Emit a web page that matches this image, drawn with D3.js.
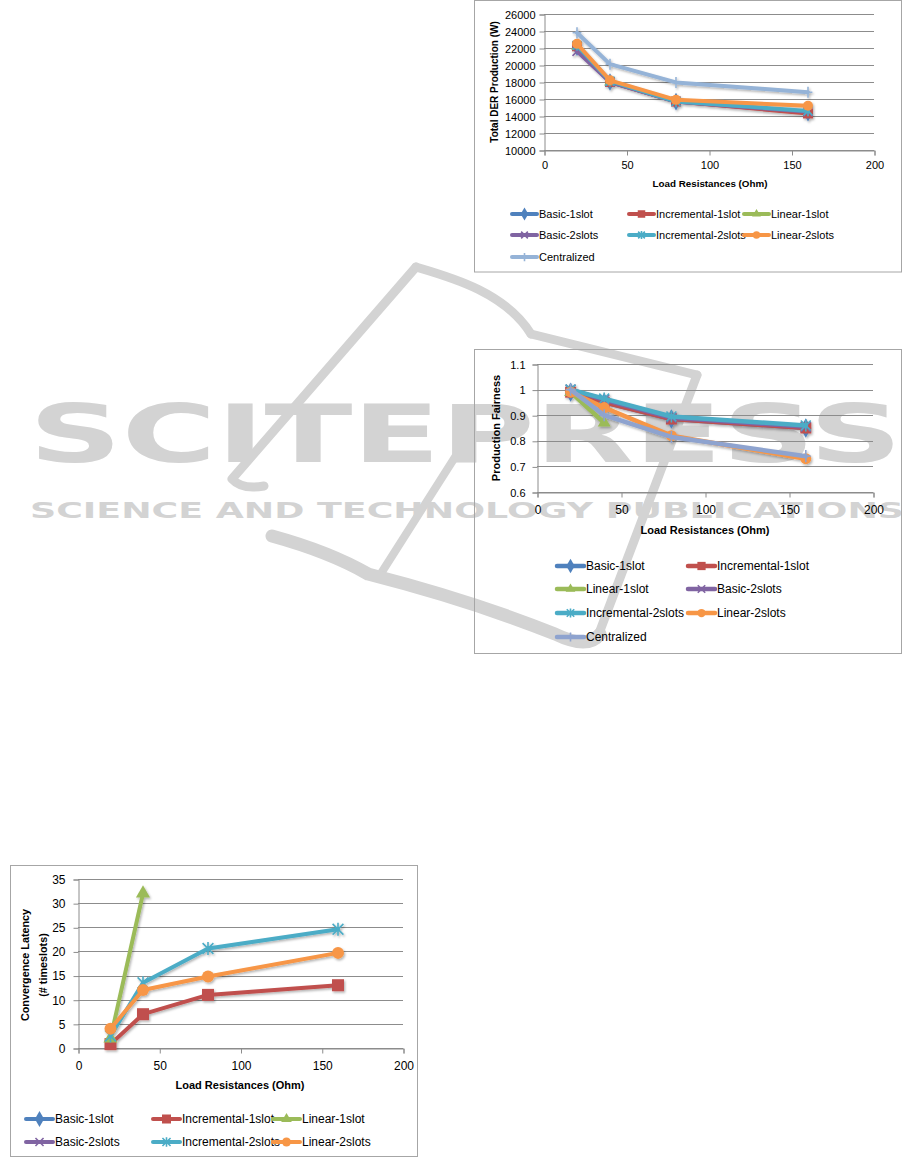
<!DOCTYPE html>
<html><head><meta charset="utf-8">
<script src="https://cdn.jsdelivr.net/npm/d3@7"></script>
<style>body{margin:0;background:#fff} svg{display:block}</style>
</head><body>
<script>
// ---------------- DATA ----------------
const seriesNames = ["Basic-1slot","Incremental-1slot","Linear-1slot","Basic-2slots","Incremental-2slots","Linear-2slots","Centralized"];
const loadsOhm = [20, 40, 80, 160];
const xTickValues = [0, 50, 100, 150, 200];

// Chart 1: Total DER Production (W)
const prodBasic1slot        = [22100, 18000, 15700, 14400];
const prodIncremental1slot  = [22200, 18000, 15700, 14300];
const prodLinear1slot       = [22200, 18000];
const prodBasic2slots       = [21600, 18000, 15700, 14500];
const prodIncremental2slots = [22300, 18100, 15700, 14600];
const prodLinear2slots      = [22500, 18200, 15900, 15200];
const prodCentralized       = [23800, 20100, 17950, 16800];
const prodTicks = [10000, 12000, 14000, 16000, 18000, 20000, 22000, 24000, 26000];

// Chart 2: Production Fairness
const fairBasic1slot        = [0.99, 0.95, 0.885, 0.85];
const fairIncremental1slot  = [0.99, 0.95, 0.885, 0.85];
const fairLinear1slot       = [0.99, 0.87];
const fairBasic2slots       = [1.0, 0.96, 0.89, 0.855];
const fairIncremental2slots = [1.0, 0.965, 0.895, 0.86];
const fairLinear2slots      = [0.99, 0.93, 0.82, 0.73];
const fairCentralized       = [1.0, 0.9, 0.815, 0.74];
const fairTicks = [0.6, 0.7, 0.8, 0.9, 1, 1.1];

// Chart 3: Convergence Latency (# timeslots)
const latBasic1slot        = [];
const latIncremental1slot  = [0.8, 7, 11, 13];
const latLinear1slot       = [2, 32];
const latBasic2slots       = [];
const latIncremental2slots = [2.5, 13.5, 20.6, 24.6];
const latLinear2slots      = [4, 12, 14.8, 19.7];
const latTicks = [0, 5, 10, 15, 20, 25, 30, 35];

// ---------------- STYLE ----------------
const seriesColors = ["#4F81BD","#C0504D","#9BBB59","#8064A2","#4BACC6","#F79646","#95B3D7"];
const seriesShapes = ["diamond","square","triangle","x","star","circle","plus"];
const FONT = "'Liberation Sans', Arial, sans-serif";

const W = 916, H = 1159;
const svg = d3.select("body").append("svg").attr("width", W).attr("height", H);

const defs = svg.append("defs");
const f = defs.append("filter").attr("id","shadow").attr("x","-20%").attr("y","-20%").attr("width","140%").attr("height","140%");
f.append("feDropShadow").attr("dx",1.2).attr("dy",1.6).attr("stdDeviation",1.1).attr("flood-color","#000").attr("flood-opacity",0.3);

// ---------------- WATERMARK ----------------
const wm = svg.append("g").attr("class","watermark");
const wmColor = "#d3d3d3";
const wmPaths = [
  {d:"M416,267 L232,479 Q242,490 264,486", w:9},
  {d:"M416,267 C450,277 505,292 531,334", w:9},
  {d:"M531,334 L697,375", w:9},
  {d:"M697,375 L598,636", w:9},
  {d:"M464,443 L380,575", w:8},
  {d:"M272,536 Q330,552 368,574 Q470,600 555,634 Q588,650 600,634", w:13}
];
wmPaths.forEach(p => wm.append("path").attr("d", p.d).attr("fill","none")
  .attr("stroke", wmColor).attr("stroke-width", p.w).attr("stroke-linecap","round").attr("stroke-linejoin","round"));
wm.append("text").attr("x", 29).attr("y", 462).text("SCITEPRESS")
  .attr("font-family","'DejaVu Sans', sans-serif").attr("font-weight","bold").attr("font-size", 80)
  .attr("textLength", 873).attr("lengthAdjust","spacingAndGlyphs").attr("fill", wmColor);
wm.append("text").attr("x", 30).attr("y", 518).text("SCIENCE AND TECHNOLOGY PUBLICATIONS")
  .attr("font-family","'DejaVu Sans', sans-serif").attr("font-weight","bold").attr("font-size", 22)
  .attr("textLength", 874).attr("lengthAdjust","spacingAndGlyphs").attr("fill", wmColor);

// ---------------- HELPERS ----------------
function drawMarker(g, shape, cx, cy, s, color) {
  const m = g.append("g").attr("transform", `translate(${cx},${cy})`);
  if (shape === "diamond") {
    m.append("path").attr("d", d3.symbol(d3.symbolDiamond, s*s*0.9)()).attr("fill", color);
  } else if (shape === "square") {
    m.append("rect").attr("x", -s/2).attr("y", -s/2).attr("width", s).attr("height", s).attr("fill", color);
  } else if (shape === "triangle") {
    m.append("path").attr("d", d3.symbol(d3.symbolTriangle, s*s*0.6)()).attr("fill", color);
  } else if (shape === "circle") {
    m.append("circle").attr("r", s/2).attr("fill", color);
  } else if (shape === "x") {
    const r = s*0.45;
    m.append("path").attr("d", `M${-r},${-r}L${r},${r}M${-r},${r}L${r},${-r}`).attr("stroke", color).attr("stroke-width", 1.6);
  } else if (shape === "star") {
    const r = s*0.45;
    m.append("path").attr("d", `M${-r},${-r}L${r},${r}M${-r},${r}L${r},${-r}M0,${-r*1.2}L0,${r*1.2}`).attr("stroke", color).attr("stroke-width", 1.6);
  } else if (shape === "plus") {
    const r = s*0.55;
    m.append("path").attr("d", `M0,${-r}L0,${r}M${-r*0.8},0L${r*0.8},0`).attr("stroke", color).attr("stroke-width", 1.6);
  }
}

function drawChart(cfg) {
  const g = svg.append("g");
  g.append("rect").attr("x", cfg.frame[0]).attr("y", cfg.frame[1]).attr("width", cfg.frame[2]).attr("height", cfg.frame[3])
    .attr("fill","none").attr("stroke","#a6a6a6").attr("stroke-width",1);

  const x = d3.scaleLinear().domain([0, 200]).range(cfg.xRange);
  const y = d3.scaleLinear().domain(cfg.yDomain).range(cfg.yRange);

  g.append("g").selectAll("line").data(cfg.yTicks).join("line")
    .attr("x1", cfg.xRange[0]).attr("x2", cfg.xRange[1])
    .attr("y1", d => Math.round(y(d)) + 0.5).attr("y2", d => Math.round(y(d)) + 0.5)
    .attr("stroke", "#8c8c8c").attr("stroke-width", 1);

  const ya = g.append("g").attr("transform", `translate(${Math.round(cfg.xRange[0])+0.5},0.5)`)
    .call(d3.axisLeft(y).tickValues(cfg.yTicks).tickSize(5).tickPadding(cfg.yPad).tickFormat(d => String(d)));
  ya.select(".domain").attr("stroke", "#8c8c8c");
  ya.selectAll(".tick line").attr("stroke", "#8c8c8c");
  ya.selectAll(".tick text").attr("font-family", FONT).attr("font-size", cfg.yTickFont).attr("fill", "#000");

  const xa = g.append("g").attr("transform", `translate(0.5,${Math.round(cfg.yRange[0])+0.5})`)
    .call(d3.axisBottom(x).tickValues(xTickValues).tickSize(5).tickPadding(cfg.xPad));
  xa.select(".domain").attr("stroke", "#8c8c8c");
  xa.selectAll(".tick line").attr("stroke", "#8c8c8c");
  xa.selectAll(".tick text").attr("font-family", FONT).attr("font-size", cfg.xTickFont).attr("fill", "#000");

  g.append("text").attr("x", cfg.xTitle[0]).attr("y", cfg.xTitle[1]).attr("text-anchor","middle")
    .attr("font-family", FONT).attr("font-weight","bold").attr("font-size", cfg.titleFont).text("Load Resistances (Ohm)");
  const yt = g.append("text").attr("transform", `translate(${cfg.yTitle[0]},${cfg.yTitle[1]}) rotate(-90)`)
    .attr("text-anchor","middle").attr("font-family", FONT).attr("font-weight","bold").attr("font-size", cfg.yTitleFont);
  cfg.yTitleLines.forEach((t, i) => {
    yt.append("tspan").attr("x", 0).attr("dy", i === 0 ? (-(cfg.yTitleLines.length-1)/2*cfg.yTitleLH + cfg.yTitleFont*0.35) : cfg.yTitleLH).text(t);
  });

  const line = d3.line().x(d => x(d[0])).y(d => y(d[1]));
  const sg = g.append("g").attr("filter","url(#shadow)");
  cfg.series.forEach((vals, i) => {
    if (!vals.length) return;
    const pts = vals.map((v, k) => [loadsOhm[k], v]);
    const color = cfg.colors[i];
    sg.append("path").attr("d", line(pts)).attr("fill","none").attr("stroke", color)
      .attr("stroke-width", cfg.lineW).attr("stroke-linejoin","round").attr("stroke-linecap","round");
    pts.forEach(p => drawMarker(sg, seriesShapes[i], x(p[0]), y(p[1]), cfg.markerSize, color));
  });

  const lg = g.append("g");
  seriesNames.slice(0, cfg.legendCount).forEach((name, i) => {
    const col = i % cfg.legendCols.length, row = Math.floor(i / cfg.legendCols.length);
    const lx = cfg.legendCols[col], ly = cfg.legendRows[row];
    const color = cfg.colors[i];
    lg.append("line").attr("x1", lx).attr("x2", lx + cfg.legendLen).attr("y1", ly).attr("y2", ly)
      .attr("stroke", color).attr("stroke-width", cfg.lineW).attr("stroke-linecap","round");
    drawMarker(lg, seriesShapes[i], lx + cfg.legendLen/2, ly, cfg.markerSize*0.75, color);
    lg.append("text").attr("x", lx + cfg.legendLen + 2).attr("y", ly).attr("dy","0.35em")
      .attr("font-family", FONT).attr("font-size", cfg.legendFont).attr("fill","#000").text(name);
  });
}

// ---------------- CHARTS ----------------
drawChart({
  frame: [474.5, 0.5, 427, 271.5],
  xRange: [544, 874], yRange: [150, 14], yDomain: [10000, 26000], yTicks: prodTicks,
  yTickFont: 11, xTickFont: 11, yPad: 4, xPad: 6, titleFont: 9.8, yTitleFont: 10,
  xTitle: [710, 187], yTitle: [494, 82], yTitleLines: ["Total DER Production (W)"], yTitleLH: 12,
  series: [prodBasic1slot, prodIncremental1slot, prodLinear1slot, prodBasic2slots, prodIncremental2slots, prodLinear2slots, prodCentralized],
  colors: seriesColors,
  lineW: 4, markerSize: 10,
  legendCount: 7, legendCols: [512, 629, 744], legendRows: [214, 235, 257], legendLen: 25, legendFont: 11
});

drawChart({
  frame: [474.5, 349.5, 427, 304],
  xRange: [537, 873], yRange: [492, 364], yDomain: [0.6, 1.1], yTicks: fairTicks,
  yTickFont: 11, xTickFont: 12, yPad: 7, xPad: 8, titleFont: 11, yTitleFont: 11,
  xTitle: [705, 534], yTitle: [496, 428], yTitleLines: ["Production Fairness"], yTitleLH: 12,
  series: [fairBasic1slot, fairIncremental1slot, fairLinear1slot, fairBasic2slots, fairIncremental2slots, fairLinear2slots, fairCentralized],
  colors: ["#4F81BD","#C0504D","#9BBB59","#8064A2","#4BACC6","#F79646","#8EA3CF"],
  lineW: 4.5, markerSize: 11,
  legendCount: 7, legendCols: [557, 688], legendRows: [566, 589, 613, 637], legendLen: 27, legendFont: 12
});

drawChart({
  frame: [10.5, 865.5, 407, 291],
  xRange: [78, 403], yRange: [1048, 879], yDomain: [0, 35], yTicks: latTicks,
  yTickFont: 12, xTickFont: 12, yPad: 8, xPad: 8, titleFont: 11, yTitleFont: 10.8,
  xTitle: [240, 1089], yTitle: [34, 965], yTitleLines: ["Convergence Latency", "(# timeslots)"], yTitleLH: 18,
  series: [latBasic1slot, latIncremental1slot, latLinear1slot, latBasic2slots, latIncremental2slots, latLinear2slots],
  colors: seriesColors,
  lineW: 4, markerSize: 12,
  legendCount: 6, legendCols: [26, 153, 273], legendRows: [1119, 1142], legendLen: 27, legendFont: 12
});
</script>
</body></html>
